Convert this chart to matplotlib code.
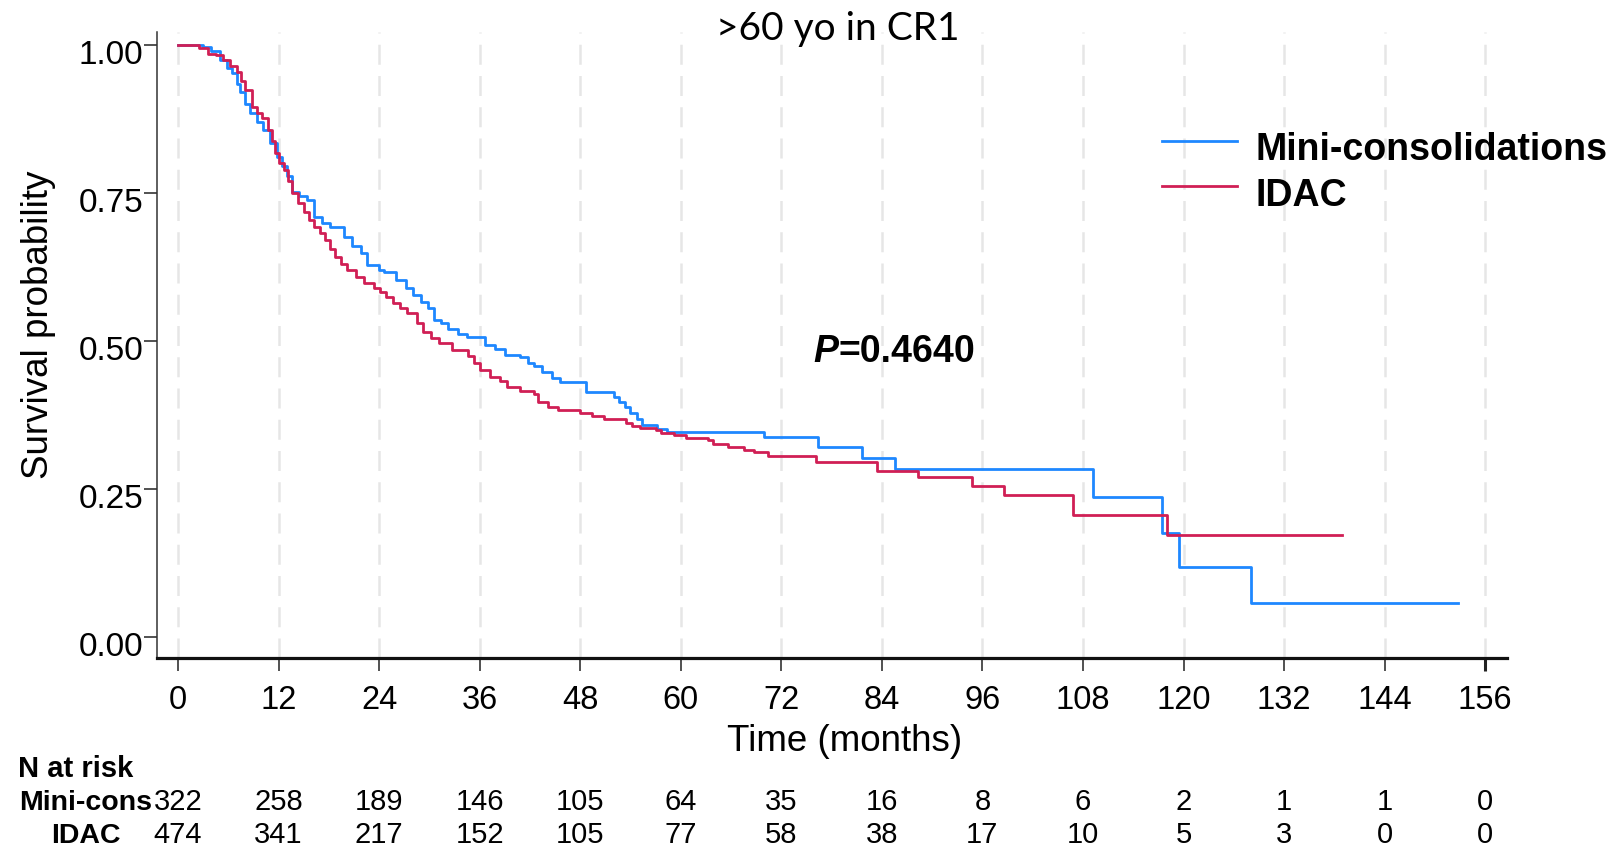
import matplotlib
matplotlib.use('Agg')
import matplotlib.pyplot as plt
import matplotlib.transforms as mtransforms
from matplotlib.lines import Line2D

# ---------------- data ----------------
title = ">60 yo in CR1"
group_names = ["Mini-consolidations", "IDAC"]
table_names = ["Mini-cons", "IDAC"]

mini_t = [0, 3.0, 4.0, 5.0, 5.8, 6.4, 7.0, 7.4, 8.0, 8.6, 9.4, 10.2, 11.0, 11.8,
          12.4, 13.0, 13.6, 14.4, 15.4, 16.2, 17.2, 18.2, 19.8, 20.8, 21.8, 22.6,
          24.0, 24.6, 26.0, 27.2, 28.0, 29.0, 29.8, 30.6, 31.4, 32.2, 33.4, 34.5,
          36.6, 37.8, 39.0, 40.8, 41.8, 42.5, 43.5, 44.6, 45.6, 48.7, 52.0, 52.6,
          53.4, 54.0, 54.8, 55.4, 57.2, 58.4, 69.9, 76.4, 81.6, 85.6, 109.2,
          117.4, 119.4, 128.1, 152.7]
mini_s = [1.0, 0.996, 0.99, 0.975, 0.962, 0.952, 0.935, 0.92, 0.90, 0.885, 0.87,
          0.856, 0.835, 0.811, 0.795, 0.778, 0.752, 0.745, 0.738, 0.71, 0.70,
          0.693, 0.676, 0.66, 0.648, 0.628, 0.62, 0.617, 0.603, 0.59, 0.578,
          0.566, 0.556, 0.535, 0.53, 0.521, 0.512, 0.507, 0.493, 0.486, 0.476,
          0.473, 0.463, 0.457, 0.448, 0.437, 0.431, 0.414, 0.405, 0.397, 0.388,
          0.378, 0.368, 0.358, 0.352, 0.347, 0.338, 0.321, 0.303, 0.283, 0.237,
          0.176, 0.119, 0.058, 0.058]

idac_t = [0, 2.5, 3.6, 4.6, 5.4, 6.2, 7.0, 7.5, 8.0, 8.8, 9.4, 10.0, 10.8, 11.2,
          11.6, 12.1, 12.6, 13.1, 13.6, 14.3, 15.0, 15.6, 16.2, 17.0, 17.6, 18.2,
          18.8, 19.5, 20.2, 21.2, 22.2, 23.4, 24.1, 24.8, 25.7, 26.5, 27.3, 28.5,
          29.3, 30.2, 31.1, 32.7, 34.6, 35.3, 36.0, 37.2, 38.4, 39.3, 40.8, 42.5,
          43.0, 44.2, 45.4, 48.0, 49.4, 50.8, 53.5, 54.2, 55.1, 57.1, 57.6, 59.2,
          60.6, 63.3, 63.8, 65.6, 67.6, 68.8, 70.4, 76.1, 83.4, 88.3, 94.7, 98.6,
          106.8, 118.0, 138.9]
idac_s = [1.0, 0.995, 0.985, 0.983, 0.975, 0.965, 0.955, 0.94, 0.924, 0.896,
          0.885, 0.877, 0.856, 0.838, 0.817, 0.80, 0.789, 0.77, 0.75, 0.733,
          0.718, 0.705, 0.693, 0.682, 0.671, 0.655, 0.642, 0.63, 0.62, 0.608,
          0.598, 0.589, 0.583, 0.575, 0.564, 0.556, 0.547, 0.53, 0.516, 0.505,
          0.496, 0.485, 0.474, 0.462, 0.451, 0.44, 0.432, 0.423, 0.416, 0.41,
          0.397, 0.389, 0.383, 0.379, 0.374, 0.369, 0.362, 0.356, 0.353, 0.35,
          0.344, 0.341, 0.336, 0.333, 0.326, 0.321, 0.316, 0.312, 0.306, 0.295,
          0.281, 0.271, 0.255, 0.240, 0.206, 0.172, 0.172]

x_ticks = [0, 12, 24, 36, 48, 60, 72, 84, 96, 108, 120, 132, 144, 156]
y_ticks = [0.0, 0.25, 0.50, 0.75, 1.00]
y_ticklabels = ["0.00", "0.25", "0.50", "0.75", "1.00"]
risk_mini = [322, 258, 189, 146, 105, 64, 35, 16, 8, 6, 2, 1, 1, 0]
risk_idac = [474, 341, 217, 152, 105, 77, 58, 38, 17, 10, 5, 3, 0, 0]
p_letter = "P"
p_rest = "=0.4640"
x_label = "Time (months)"
y_label = "Survival probability"
risk_title = "N at risk"

colors = ["#1E87FF", "#D01F55"]

# ---------------- figure ----------------
W, H = 1612, 849
fig = plt.figure(figsize=(W / 100, H / 100), dpi=100)
ax = fig.add_axes([157 / W, 1 - 658 / H, 1350 / W, 626 / H])

FONT = "Liberation Sans"

ax.step(mini_t, mini_s, where="post", color=colors[0], lw=2.0, zorder=3)
ax.step(idac_t, idac_s, where="post", color=colors[1], lw=2.0, zorder=3)

ax.set_xlim(-2.5, 158.6)
ax.set_ylim(-0.0355, 1.022)

ax.set_xticks(x_ticks)
ax.set_xticklabels([str(v) for v in x_ticks], family=FONT, fontsize=23.5)
ax.set_yticks(y_ticks)
ax.set_yticklabels(y_ticklabels, family=FONT, fontsize=24)

ax.tick_params(axis="x", direction="out", length=9.5, width=1.1, pad=10, color="#222222")
ax.tick_params(axis="y", direction="out", length=9.5, width=1.1, pad=0.5, color="#222222")
ax.get_xticklines()[-2].set_markeredgewidth(2.2)

# labels in the reference sit a little below their tick marks
off = mtransforms.ScaledTranslation(0, -5 / 72, fig.dpi_scale_trans)
for lab in ax.get_yticklabels():
    lab.set_transform(lab.get_transform() + off)

for s in ("top", "right"):
    ax.spines[s].set_visible(False)
ax.spines["left"].set_linewidth(1.1)
ax.spines["left"].set_color("#333333")
ax.spines["bottom"].set_linewidth(2.3)
ax.spines["bottom"].set_color("#111111")

ax.xaxis.grid(True, color="#e6e6e6", lw=1.8, linestyle=(0, (8, 4.5)), zorder=0)
ax.set_axisbelow(True)

ax.set_xlabel(x_label, family=FONT, fontsize=26.5)
ax.xaxis.set_label_coords(0.5096, -0.105)
ax.set_ylabel(y_label, family=FONT, fontsize=26.5)
ax.yaxis.set_label_coords(-0.075, 0.533)

# title
fig.text(838 / W, 1 - 29 / H, title, family="Lato", fontsize=28, ha="center", va="center")

# P value
ax.text(78.8, 0.481, p_letter, family=FONT, fontsize=27, weight="bold", style="italic",
        ha="right", va="center")
ax.text(78.8, 0.481, p_rest, family=FONT, fontsize=27, weight="bold",
        ha="left", va="center")

# legend (drawn manually so the text can sit slightly below its key line)
leg_line_y = [141, 186]
leg_text_y = [150, 196]
for name, col, ly, ty in zip(group_names, colors, leg_line_y, leg_text_y):
    fig.add_artist(Line2D([1162 / W, 1237 / W], [1 - ly / H, 1 - ly / H],
                          transform=fig.transFigure, color=col, lw=2.0))
    fig.text(1256 / W, 1 - ty / H, name, family=FONT, fontsize=27, weight="bold",
             ha="left", va="center")

# risk table
trans = mtransforms.blended_transform_factory(ax.transData, fig.transFigure)
fig.text(17.5 / W, 1 - 777 / H, risk_title, family=FONT, fontsize=21, weight="bold",
         ha="left", va="baseline")
row_base = [1 - 810 / H, 1 - 843 / H]
for name, yy in zip(table_names, row_base):
    fig.text(86 / W, yy, name, family=FONT, fontsize=20.5, weight="bold",
             ha="center", va="baseline")
for counts, yy in zip([risk_mini, risk_idac], row_base):
    for xv, c in zip(x_ticks, counts):
        ax.text(xv, yy, str(c), transform=trans, family=FONT, fontsize=21,
                ha="center", va="baseline")

fig.savefig("out.png", dpi=100)
